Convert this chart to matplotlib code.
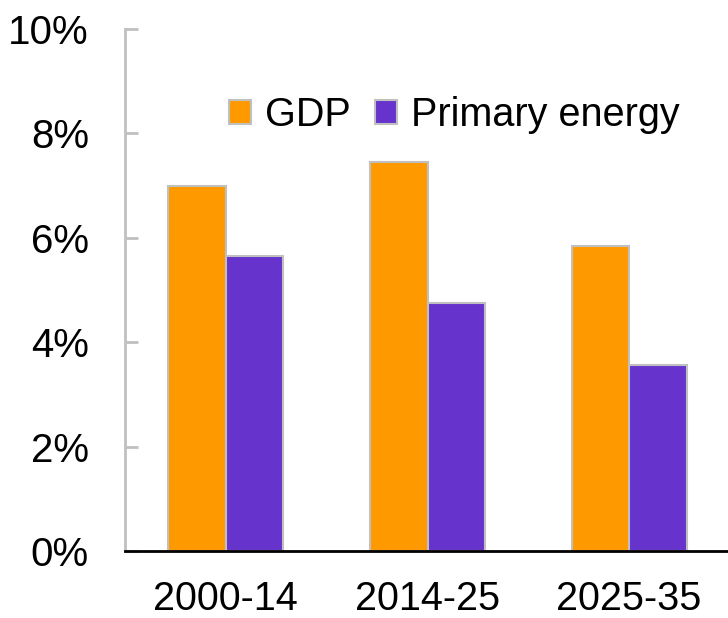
import matplotlib.pyplot as plt
import numpy as np

periods = ["2000-14", "2014-25", "2025-35"]
gdp = [7.0, 7.45, 5.85]
energy = [5.65, 4.75, 3.57]
yticks = [0, 2, 4, 6, 8, 10]

plt.rcParams['font.family'] = ['Liberation Sans', 'DejaVu Sans']

fig = plt.figure(figsize=(7.28, 6.18), dpi=100)
ax = fig.add_axes([125 / 728, 1 - 551 / 618, 1 - 125 / 728, (551 - 29) / 618])

x = np.arange(len(periods))
w = 0.285
edge = "#C0C0C0"
ax.bar(x - w / 2, gdp, w, color="#FF9900", edgecolor=edge, linewidth=1.5, label="GDP")
ax.bar(x + w / 2, energy, w, color="#6633CC", edgecolor=edge, linewidth=1.5, label="Primary energy")

ax.set_xlim(-0.5, 2.49)
ax.set_ylim(0, 10)
ax.set_yticks(yticks)
ax.set_yticklabels(["{}%".format(v) for v in yticks])
ax.set_xticks(x)
ax.set_xticklabels(periods)

for s in ["top", "right"]:
    ax.spines[s].set_visible(False)
ax.spines["left"].set_color(edge)
ax.spines["left"].set_linewidth(2)
ax.spines["bottom"].set_color("black")
ax.spines["bottom"].set_linewidth(2)

ax.tick_params(axis="y", direction="in", length=9, width=2, color=edge, labelsize=29, pad=26)
ax.tick_params(axis="x", length=0, labelsize=28.5, pad=21)

# legend sits inside the plot, near the top
ax.legend(loc="upper left", bbox_to_anchor=(0.147, 0.902), ncol=2, frameon=False,
          fontsize=28.5, handlelength=0.55, handleheight=0.55, handletextpad=0.35,
          columnspacing=0.62, borderaxespad=0)

fig.savefig("out.png", dpi=100)
